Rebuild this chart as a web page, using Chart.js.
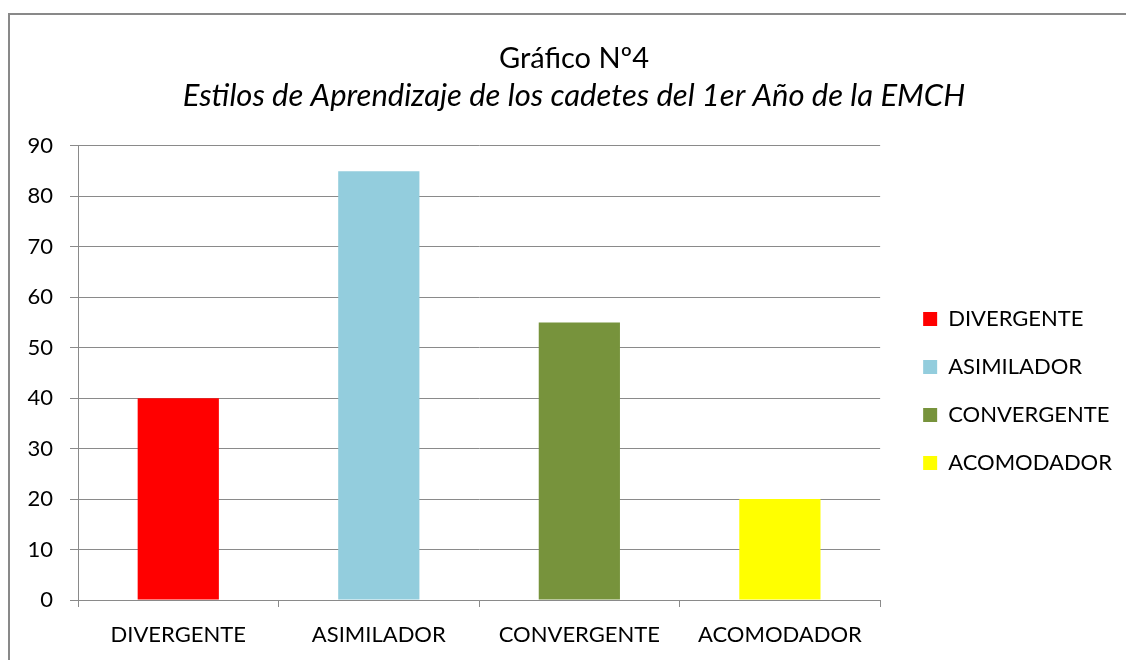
<!DOCTYPE html>
<html>
<head>
<meta charset="utf-8">
<script src="https://cdn.jsdelivr.net/npm/chart.js@4.4.0/dist/chart.umd.min.js"></script>
<style>
  html, body { margin: 0; padding: 0; background: #fff; overflow: hidden; }
  #wrap { position: relative; width: 1126px; height: 660px; }
</style>
</head>
<body>
<div id="wrap"><canvas id="chart" width="1126" height="660"></canvas></div>
<script>
// data
const categories = ['DIVERGENTE', 'ASIMILADOR', 'CONVERGENTE', 'ACOMODADOR'];
const students = [40, 85, 55, 20];
const yMin = 0;
const yMax = 90;
const yStep = 10;

const titleText = 'Gráfico Nº4';
const subtitleText = 'Estilos de Aprendizaje de los cadetes del 1er Año de la EMCH';

// styling
const barColors = ['#FF0000', '#93CDDD', '#77933C', '#FFFF00'];
const FONT = "Lato, 'Open Sans', sans-serif";
const axisGrey = '#8a8a8a';

Chart.defaults.font.family = FONT;
Chart.defaults.color = '#000';

// white page + the grey frame round the chart (its right and bottom edges are off screen)
const framePlugin = {
  id: 'frame',
  beforeDraw(chart) {
    const c = chart.ctx;
    c.save();
    c.fillStyle = '#fff';
    c.fillRect(0, 0, chart.width, chart.height);
    c.strokeStyle = '#898989';
    c.lineWidth = 2;
    c.strokeRect(9, 14, chart.width + 40, chart.height + 40);
    c.restore();
  }
};

// the original frame is wider than the page: titles are centred on it,
// and the legend column sits a little away from the plot
const boxShift = {
  id: 'boxShift',
  afterLayout(chart) {
    chart.boxes.forEach(b => {
      if (b === chart.legend) {
        b.left += 17;
        b.right += 17;
      } else if (b.position === 'top' && b.fullSize) {
        b.left += 10.5;
        b.right += 10.5;
      }
    });
  }
};

const ctx = document.getElementById('chart');

new Chart(ctx, {
  type: 'bar',
  data: {
    labels: categories,
    datasets: [{
      label: 'Cadetes',
      data: students,
      backgroundColor: barColors,
      borderWidth: 0,
      barPercentage: 0.405,
      categoryPercentage: 1
    }]
  },
  options: {
    responsive: false,
    animation: false,
    layout: { padding: { left: 22, right: 21, top: 15, bottom: 0 } },
    plugins: {
      title: {
        display: true,
        text: titleText,
        color: '#000',
        font: { family: FONT, size: 29, weight: 'normal', lineHeight: 1.2 },
        padding: { top: 26.5, bottom: 0 }
      },
      subtitle: {
        display: true,
        text: subtitleText,
        color: '#000',
        font: { family: FONT, size: 31, style: 'italic', weight: 'normal', lineHeight: 1.2 },
        padding: { top: 0.7, bottom: 31.7 }
      },
      legend: {
        position: 'right',
        fullSize: false,
        title: { display: true, text: ' ', font: { size: 10, lineHeight: 1 }, padding: 13 },
        labels: {
          boxWidth: 14,
          boxHeight: 14,
          padding: 26,
          color: '#000',
          font: { family: FONT, size: 22 },
          generateLabels(chart) {
            const ds = chart.data.datasets[0];
            return chart.data.labels.map((label, i) => ({
              text: label,
              fillStyle: ds.backgroundColor[i],
              strokeStyle: ds.backgroundColor[i],
              lineWidth: 0,
              fontColor: '#000',
              hidden: false,
              index: i,
              datasetIndex: 0
            }));
          }
        }
      },
      tooltip: { enabled: false }
    },
    scales: {
      x: {
        grid: { offset: true, drawOnChartArea: false, color: axisGrey, tickLength: 7 },
        border: { color: axisGrey },
        ticks: { color: '#000', font: { family: FONT, size: 22 }, padding: 15, maxRotation: 0, autoSkip: false },
        afterFit(s) { s.height = 60; }
      },
      y: {
        min: yMin,
        max: yMax,
        ticks: { stepSize: yStep, color: '#000', font: { family: FONT, size: 22 }, padding: 17 },
        grid: { color: axisGrey, tickLength: 8 },
        border: { color: axisGrey },
        afterFit(s) { s.width = 56; }
      }
    }
  },
  plugins: [framePlugin, boxShift]
});
</script>
</body>
</html>
